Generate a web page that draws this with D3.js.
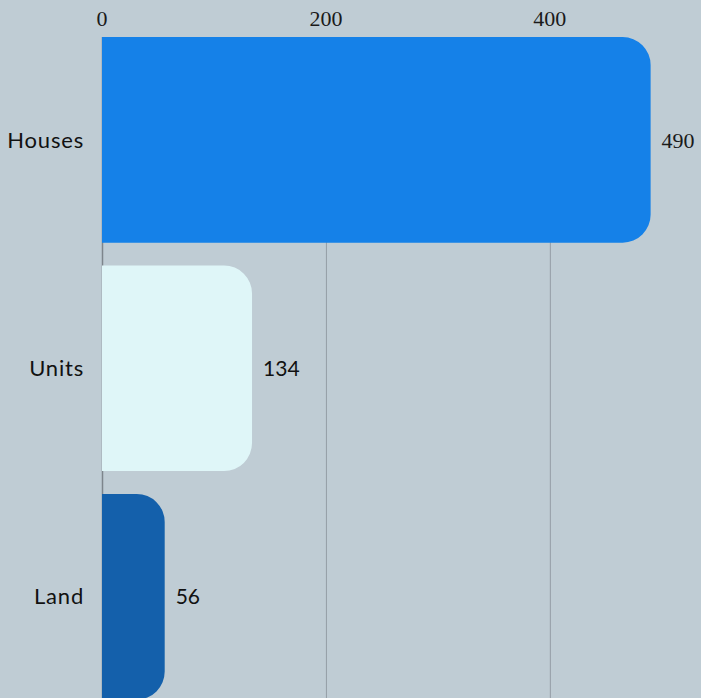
<!DOCTYPE html>
<html>
<head>
<meta charset="utf-8">
<script src="https://cdn.jsdelivr.net/npm/d3@7"></script>
<style>
  html, body { margin: 0; padding: 0; background: #bfccd4; overflow: hidden; }
  .tick-label { font-family: "Liberation Serif", "DejaVu Serif", serif; font-size: 22px; fill: #1a1a1a; }
  .cat-label { font-family: Lato, "Open Sans", sans-serif; font-size: 22px; letter-spacing: 0.8px; fill: #111; }
  .val-label { font-family: Lato, "Open Sans", sans-serif; font-size: 21px; fill: #111; }
</style>
</head>
<body>
<div id="chart"></div>
<script>
// data
var categories = ["Houses", "Units", "Land"];
var values = [490, 134, 56];
var barColors = ["#1581e8", "#dff6f8", "#1460ab"];
var tickValues = [0, 200, 400];

var W = 701, H = 698;
var margin = {top: 37, left: 102};

var svg = d3.select("#chart").append("svg")
    .attr("width", W)
    .attr("height", H);

svg.append("rect")
    .attr("width", W)
    .attr("height", H)
    .attr("fill", "#bfccd4");

// scales
var x = d3.scaleLinear().domain([0, 535]).range([margin.left, W]);
var y = d3.scaleBand()
    .domain(categories)
    .range([25.6, 711])
    .paddingInner(0.1)
    .paddingOuter(0.05);

// gridlines
svg.append("g")
    .selectAll("line")
    .data(tickValues.filter(function(d) { return d > 0; }))
  .enter().append("line")
    .attr("x1", function(d) { return x(d) + 0.5; })
    .attr("x2", function(d) { return x(d) + 0.5; })
    .attr("y1", margin.top)
    .attr("y2", H)
    .attr("stroke", "#959ea6")
    .attr("stroke-width", 1);

// zero line
svg.append("line")
    .attr("x1", x(0) + 0.5)
    .attr("x2", x(0) + 0.5)
    .attr("y1", margin.top)
    .attr("y2", H)
    .attr("stroke", "#7d858c")
    .attr("stroke-width", 1.5);

// top tick labels
svg.append("g")
    .selectAll("text")
    .data(tickValues)
  .enter().append("text")
    .attr("class", "tick-label")
    .attr("x", function(d) { return x(d); })
    .attr("y", 26)
    .attr("text-anchor", "middle")
    .text(function(d) { return d; });

// bars with rounded right end
function barPath(x0, x1, y0, h, r) {
  r = Math.min(r, (x1 - x0), h / 2);
  return "M" + x0 + "," + y0 +
    "H" + (x1 - r) +
    "A" + r + "," + r + " 0 0 1 " + x1 + "," + (y0 + r) +
    "V" + (y0 + h - r) +
    "A" + r + "," + r + " 0 0 1 " + (x1 - r) + "," + (y0 + h) +
    "H" + x0 + "Z";
}

var data = categories.map(function(c, i) {
  return {cat: c, value: values[i], color: barColors[i]};
});

svg.append("g")
    .selectAll("path")
    .data(data)
  .enter().append("path")
    .attr("d", function(d) {
      return barPath(x(0), x(d.value), y(d.cat), y.bandwidth(), 28);
    })
    .attr("fill", function(d) { return d.color; });

// category labels
svg.append("g")
    .selectAll("text")
    .data(data)
  .enter().append("text")
    .attr("class", "cat-label")
    .attr("x", 84)
    .attr("y", function(d) { return y(d.cat) + y.bandwidth() / 2; })
    .attr("dy", "0.35em")
    .attr("text-anchor", "end")
    .text(function(d) { return d.cat; });

// value labels
svg.append("g")
    .selectAll("text")
    .data(data)
  .enter().append("text")
    .attr("class", function(d, i) { return i === 0 ? "tick-label" : "val-label"; })
    .attr("x", function(d) { return x(d.value) + 11; })
    .attr("y", function(d) { return y(d.cat) + y.bandwidth() / 2; })
    .attr("dy", "0.35em")
    .text(function(d) { return d.value; });
</script>
</body>
</html>
